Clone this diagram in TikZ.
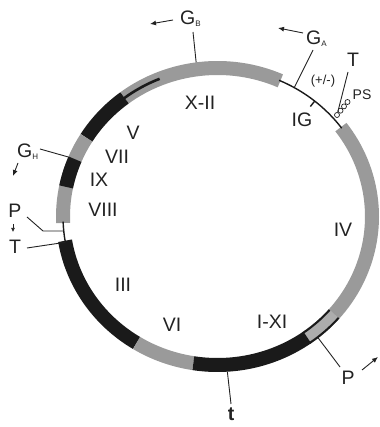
\documentclass[tikz,border=0pt]{standalone}
\usepackage{fontspec}
\setmainfont{Liberation Sans}
\usetikzlibrary{calc,arrows.meta}
\definecolor{bandgray}{HTML}{9A9A9A}
\definecolor{lightband}{HTML}{ADADAD}
\definecolor{bandblack}{HTML}{1A1A1A}
\definecolor{ink}{HTML}{222222}
\newcommand\ringarc[5]{\draw[#1] ($(C)+(#2:#4 and #5)$) arc[start angle=#2,end angle=#3,x radius=#4,y radius=#5];}
\newcommand\lowsub[1]{{\fontsize{8}{8}\selectfont\raisebox{-2pt}{#1}}}
\begin{document}
\begin{tikzpicture}[x=1pt,y=1pt,
  gband/.style={draw=bandgray,line width=14pt},
  lband/.style={draw=lightband,line width=14pt},
  kband/.style={draw=bandblack,line width=14pt},
  thinl/.style={draw=bandblack,line width=1.4pt},
  medl/.style={draw=bandblack,line width=2.6pt},
  edgel/.style={draw=bandblack,line width=2pt},
  leader/.style={draw=ink,line width=0.9pt},
  arr/.style={draw=ink,line width=0.9pt,-{Latex[length=6pt,width=5pt]}},
  lab/.style={font=\fontsize{19.5}{19.5}\selectfont,inner sep=0pt,text=ink},
  smalllab/.style={font=\fontsize{13}{13}\selectfont,inner sep=0pt,text=ink},
  bead/.style={circle,draw=ink,fill=white,line width=0.7pt,minimum size=5pt,inner sep=0pt}
]
\useasboundingbox (0,0) rectangle (379,427);
\coordinate (C) at (217.5,210.5);
% ---- ring bands ----
\ringarc{gband}{66}{127}{154.5pt}{148.5pt}
\ringarc{kband}{127}{148}{154.5pt}{148.5pt}
\ringarc{medl}{112}{127.5}{154.5pt}{148.5pt}
\ringarc{gband}{148}{182.5}{154.5pt}{148.5pt}
\ringarc{kband}{157.3}{168.5}{154.5pt}{148.5pt}
\ringarc{thinl}{182}{190}{154.5pt}{148.5pt}
\ringarc{kband}{189.4}{238.4}{154.5pt}{148.5pt}
\ringarc{gband}{238.4}{261}{154.5pt}{148.5pt}
\ringarc{gband}{-54.5}{37}{154.5pt}{148.5pt}
\ringarc{lband}{-54.5}{-41}{154.5pt}{148.5pt}
\ringarc{kband}{-99}{-54.5}{154.5pt}{148.5pt}
\ringarc{edgel}{-55}{-41}{160.5pt}{154.5pt}
\ringarc{edgel}{-55}{-41}{148.5pt}{142.5pt}
\ringarc{thinl}{36.5}{66.5}{154.5pt}{148.5pt}
% tick
\coordinate (tick1) at ($(C)+(51:154.5pt and 148.5pt)$);
\coordinate (tick2) at ($(C)+(51:147.5pt and 141.5pt)$);
\draw[thinl] (tick1) -- (tick2);
% beads
\node[bead] (c1) at (337,312) {};
\node[bead] (c2) at (340.5,316.3) {};
\node[bead] (c3) at (344,320.6) {};
\node[bead] (c4) at (347.5,325) {};
% ---- labels ----
\node[lab,anchor=base west] (GB) at (180,402) {G\lowsub{B}};
\node[lab,anchor=base west] (GA) at (306,382) {G\lowsub{A}};
\node[lab,anchor=base west] (GH) at (17,269) {G\lowsub{H}};
\node[lab] (Ttop) at (353,367) {T};
\node[font=\fontsize{14}{14}\selectfont,inner sep=0pt,text=ink] (PS) at (362,332) {PS};
\node[smalllab] (pm) at (323,346) {(+/-)};
\node[lab] (IG) at (302,307) {IG};
\node[lab] (XII) at (200,324) {X-II};
\node[lab] (V) at (133,294) {V};
\node[lab] (VII) at (117,270) {VII};
\node[lab] (IX) at (99,247) {IX};
\node[lab] (VIII) at (103,217) {VIII};
\node[lab] (III) at (123,142) {III};
\node[lab] (VI) at (172,102) {VI};
\node[lab] (IXI) at (272,105) {I-XI};
\node[lab] (IV) at (343,197) {IV};
\node[lab] (Pl) at (15,216) {P};
\node[lab] (Tl) at (15,180) {T};
\node[lab,font=\fontsize{19.5}{19.5}\selectfont\bfseries] (tt) at (231,13) {t};
\node[lab] (Pb) at (348,49) {P};
% ---- leader lines ----
\coordinate (gbs) at (193,395);
\coordinate (gbe) at ($(C)+(97.6:161.5pt and 155.5pt)$);
\draw[leader] (gbs) -- (gbe);
\coordinate (gas) at (313,377);
\coordinate (gae) at ($(C)+(60.2:154.5pt and 148.5pt)$);
\draw[leader] (gas) -- (gae);
\coordinate (ts) at (348,355);
\draw[leader] (ts) -- (c1);
\coordinate (ghs) at (40,278);
\coordinate (ghe) at ($(C)+(157.5:161.5pt and 155.5pt)$);
\draw[leader] (ghs) -- (ghe);
\coordinate (pls) at (27,210);
\coordinate (plk) at (43,196);
\coordinate (ple) at ($(C)+(185.6:154.5pt and 148.5pt)$);
\draw[leader] (pls) -- (plk) -- (ple);
\coordinate (tls) at (27,179);
\coordinate (tle) at ($(C)+(190:154.5pt and 148.5pt)$);
\draw[leader] (tls) -- (tle);
\coordinate (tts) at ($(C)+(273.5:161.5pt and 155.5pt)$);
\coordinate (tte) at (231,23);
\draw[leader] (tts) -- (tte);
\coordinate (pbs) at ($(C)+(-51.4:161.5pt and 155.5pt)$);
\coordinate (pbe) at (340,60);
\draw[leader] (pbs) -- (pbe);
% ---- arrows ----
\coordinate (a1s) at (173,407); \coordinate (a1e) at (150,403);
\draw[arr] (a1s) -- (a1e);
\coordinate (a2s) at (303,394); \coordinate (a2e) at (278,399);
\draw[arr] (a2s) -- (a2e);
\coordinate (a3s) at (18,264); \coordinate (a3e) at (13,251);
\draw[arr] (a3s) -- (a3e);
\coordinate (a4s) at (13,203); \coordinate (a4e) at (13,195);
\draw[draw=ink,line width=0.7pt,-{Latex[length=4pt,width=4pt]}] (a4s) -- (a4e);
\coordinate (a5s) at (362,57); \coordinate (a5e) at (378,70);
\draw[arr] (a5s) -- (a5e);
\end{tikzpicture}
\end{document}
